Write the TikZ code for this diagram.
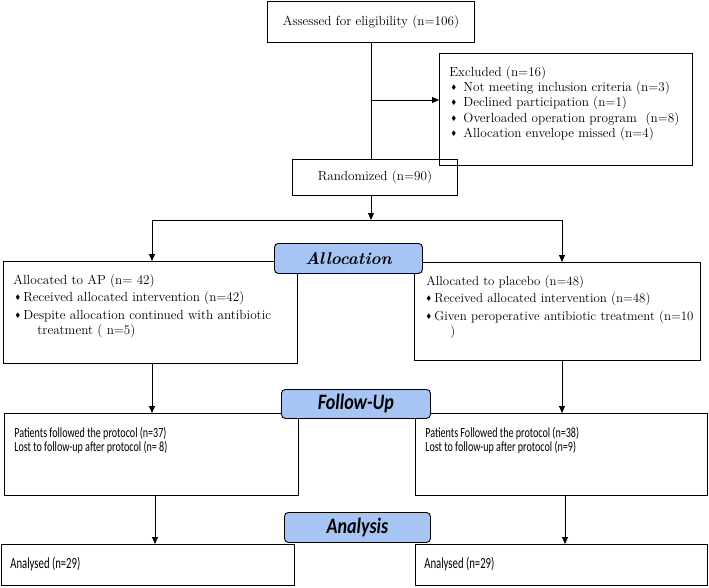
\documentclass[tikz,border=0pt]{standalone}
\usepackage{amssymb}
\usepackage{fontspec}
\newfontfamily\carl{Carlito}
\usetikzlibrary{positioning,arrows.meta}
\tikzset{>={Triangle[length=7pt,width=6pt]}}
\definecolor{stageblue}{RGB}{166,197,245}
\newcommand*{\bul}{\raisebox{2pt}{\fontsize{6.5}{6.5}\selectfont$\blacklozenge$}}

\begin{document}
\begin{tikzpicture}[x=1pt,y=-1pt,line width=0.9pt,
  box/.style={draw,inner sep=0pt,anchor=north west,font=\fontsize{13.2}{16}\selectfont},
  stage/.style={draw,rounded corners=4pt,fill=stageblue,inner sep=0pt,anchor=north west},
  txt/.style={anchor=north west,align=left,inner sep=0pt},
  sans/.style={txt,xscale=0.72,font=\carl\fontsize{14}{14}\selectfont}]
\useasboundingbox (0,0) rectangle (709,587);
\node[box,minimum width=207pt,minimum height=41pt] (assess) at (267,1) {Assessed for eligibility (n=106)};
\node[box,minimum width=253pt,minimum height=112pt] (excl) at (439,53) {};
\node[box,minimum width=165pt,minimum height=36pt] (rand) at (292,159) {Randomized (n=90)};
\node[box,minimum width=294pt,minimum height=102pt] (ap) at (3,261) {};
\node[box,minimum width=286pt,minimum height=98pt] (plac) at (414,262) {};
\node[box,minimum width=294pt,minimum height=82pt] (fupL) at (4,413) {};
\node[box,minimum width=292pt,minimum height=82pt] (fupR) at (415,413) {};
\node[box,minimum width=293pt,minimum height=41pt] (anL) at (1,544) {};
\node[box,minimum width=292pt,minimum height=41pt] (anR) at (415,544) {};

\node[txt,font=\fontsize{13.2}{15.3}\selectfont] (extxt) at (449,66) {Excluded (n=16)\\
  \hspace*{2pt}\bul\hspace{7pt}Not meeting inclusion criteria (n=3)\\
  \hspace*{2pt}\bul\hspace{7pt}Declined participation (n=1)\\
  \hspace*{2pt}\bul\hspace{7pt}Overloaded operation program~ (n=8)\\
  \hspace*{2pt}\bul\hspace{7pt}Allocation envelope missed (n=4)};
\node[txt,font=\fontsize{13.2}{17.5}\selectfont] (aptxt) at (13,274) {Allocated to AP (n= 42)\\
  \hspace*{2pt}\bul\hspace{3pt}Received allocated intervention (n=42)\\
  \hspace*{2pt}\bul\hspace{3pt}Despite allocation continued with antibiotic\\[-2pt]
  \hspace*{24pt}treatment ( n=5)};
\node[txt,font=\fontsize{12.9}{17.5}\selectfont] (pltxt) at (426,275) {Allocated to placebo (n=48)\\
  \bul\hspace{3pt}Received allocated intervention (n=48)\\
  \bul\hspace{3pt}Given peroperative antibiotic treatment (n=10\\[-2pt]
  \hspace*{24pt})};
\node[sans] (fLtxt) at (14,426.5) {Patients followed the protocol (n=37)\\
  Lost to follow-up after protocol (n= 8)};
\node[sans] (fRtxt) at (425,426.5) {Patients Followed the protocol (n=38)\\
  Lost to follow-up after protocol (n=9)};
\node[sans,xscale=0.96,font=\carl\fontsize{15.5}{15.5}\selectfont] (aLtxt) at (10,557) {Analysed (n=29)};
\node[sans,xscale=0.96,font=\carl\fontsize{15.5}{15.5}\selectfont] (aRtxt) at (424,557) {Analysed (n=29)};

\coordinate (split) at (371,100);
\coordinate (fork) at (371,220);
\coordinate (forkL) at (152,220);
\coordinate (forkR) at (562,220);
\draw (split |- assess.south) -- (split |- rand.north);
\draw[->] (split) -- (split -| excl.west);
\draw[->] (split |- rand.south) -- (fork);
\draw (forkL) -- (forkR);
\draw[->] (forkL) -- (forkL |- ap.north);
\draw[->] (forkR) -- (forkR |- plac.north);
\draw[->] (forkL |- ap.south) -- (forkL |- fupL.north);
\draw[->] (forkR |- plac.south) -- (forkR |- fupR.north);
\draw[->] ([xshift=3pt]forkL |- fupL.south) -- ([xshift=3pt]forkL |- anL.north);
\draw[->] ([xshift=3pt]forkR |- fupR.south) -- ([xshift=3pt]forkR |- anR.north);

\node[stage,minimum width=148pt,minimum height=30pt,font=\fontsize{17}{17}\selectfont\bfseries\itshape] (alloc) at (274,243) {Allocation};
\node[stage,minimum width=149pt,minimum height=29pt,font=\carl\fontsize{22}{22}\selectfont\bfseries\itshape] (fup) at (281,389) {\scalebox{0.82}[1]{Follow-Up}};
\node[stage,minimum width=146pt,minimum height=30pt,font=\carl\fontsize{22}{22}\selectfont\bfseries\itshape] (anal) at (284,512) {\scalebox{0.82}[1]{Analysis}};
\end{tikzpicture}
\end{document}
